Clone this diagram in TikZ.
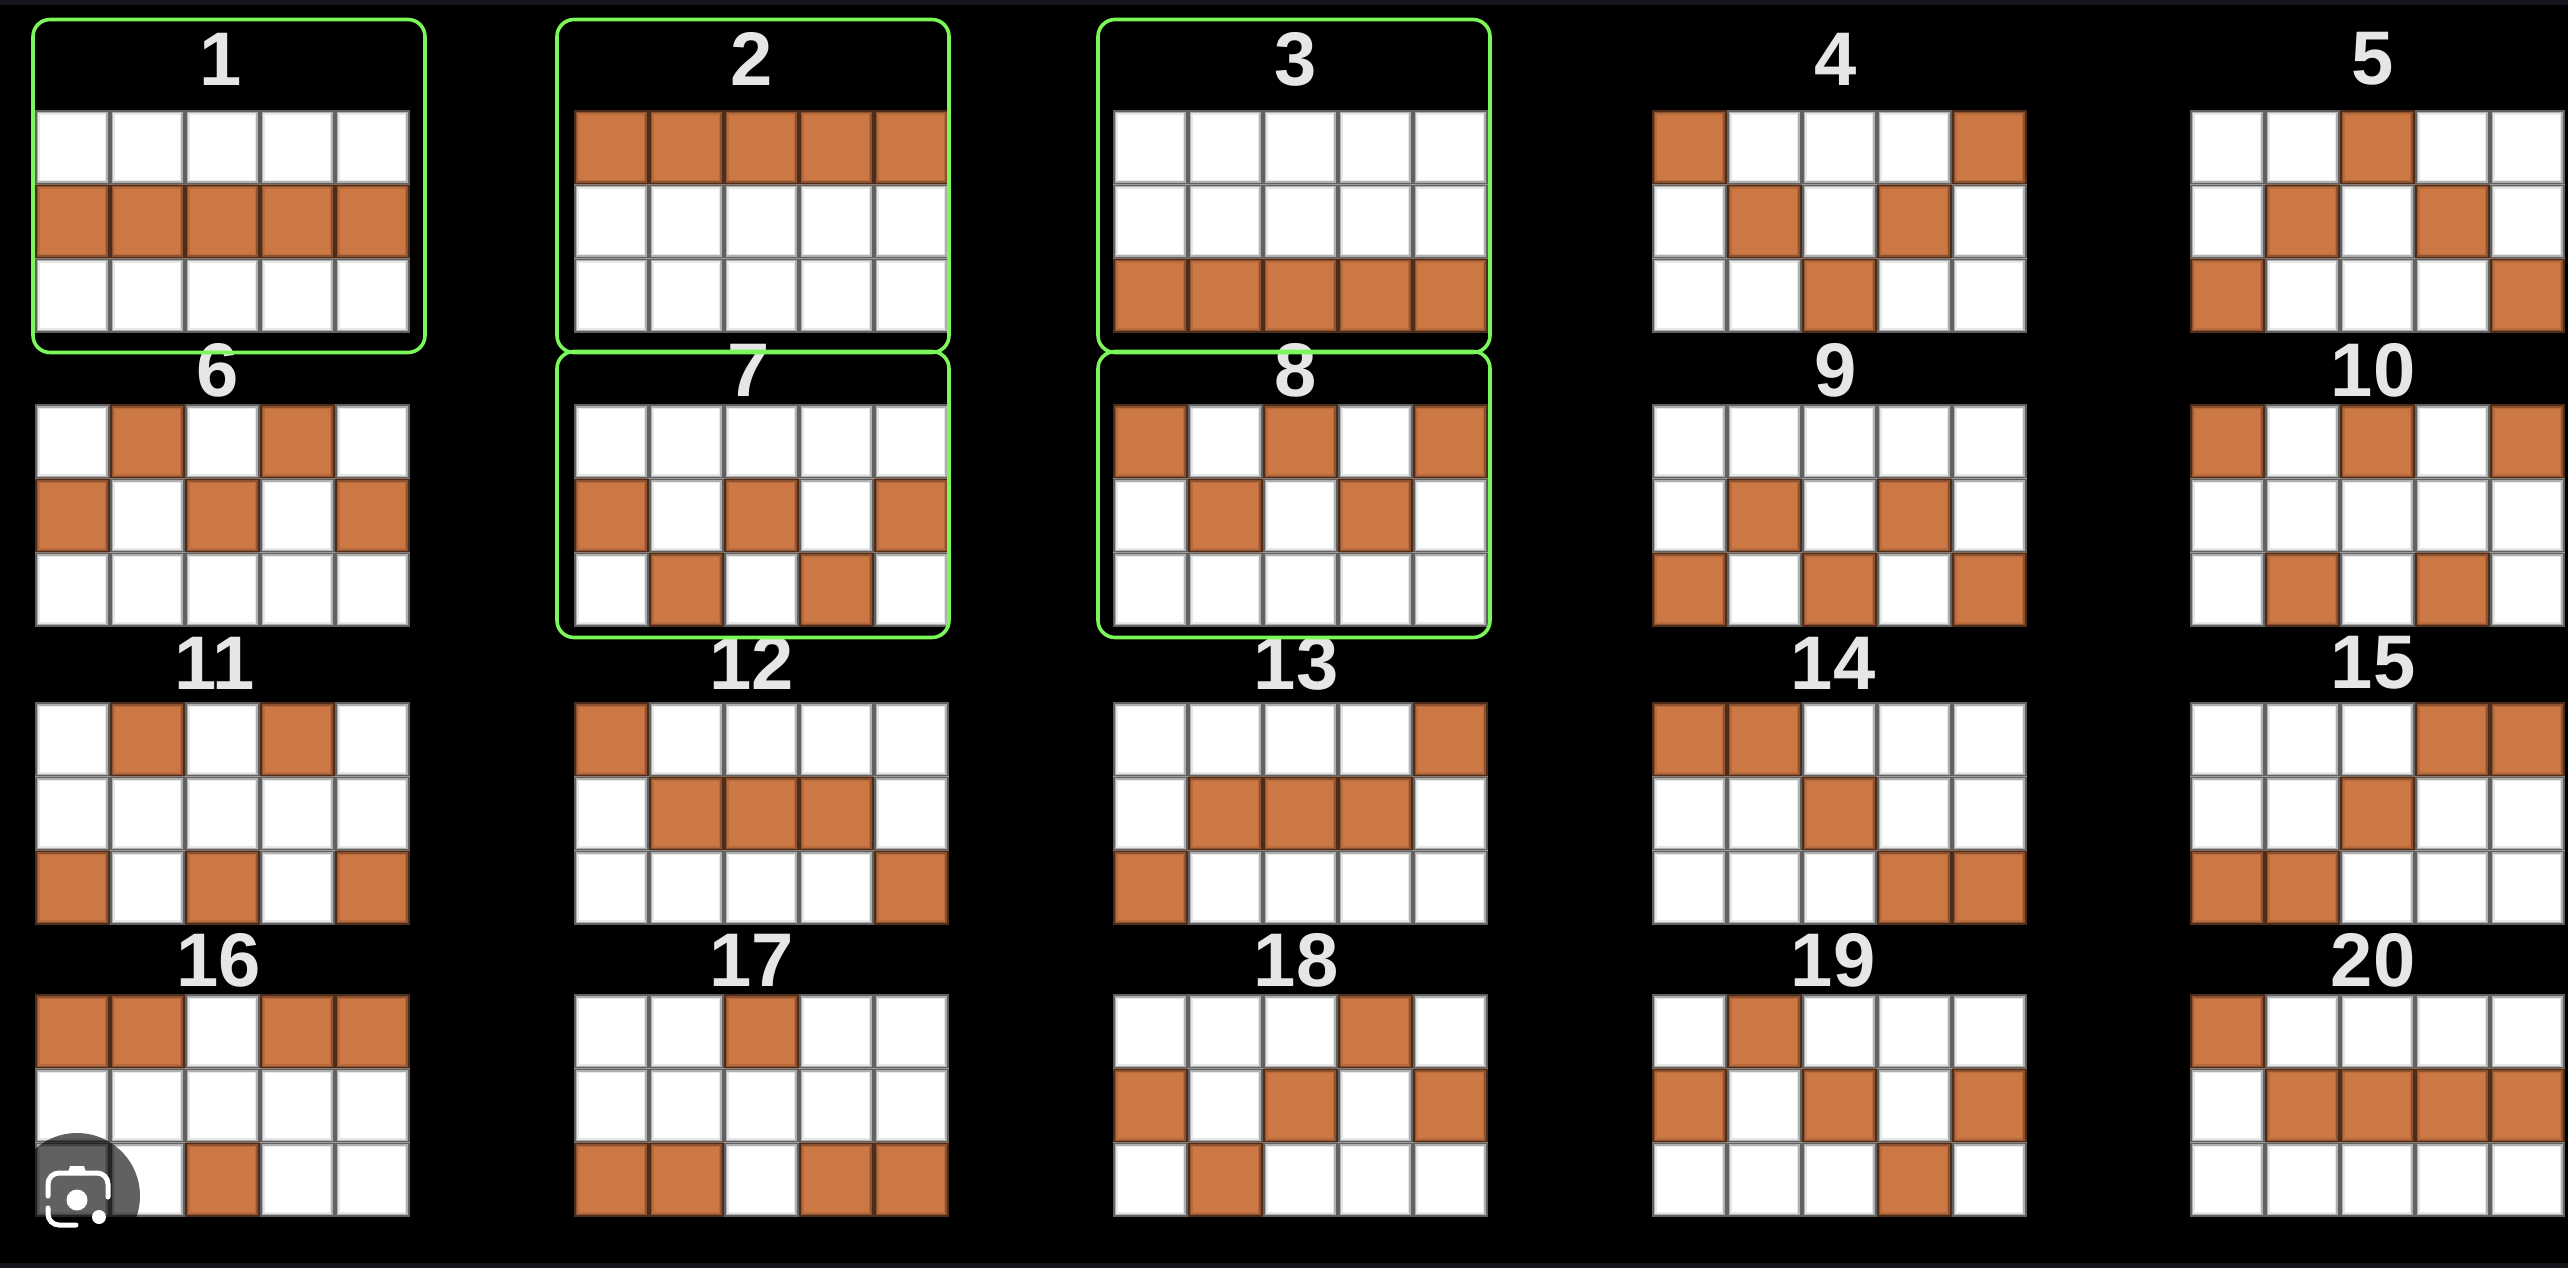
\documentclass[tikz,border=0pt]{standalone}
\usepackage{fontspec}
\setmainfont{Liberation Sans}
\definecolor{cellorange}{HTML}{CC7845}
\definecolor{hlgreen}{HTML}{7CF75A}
\definecolor{stripdark}{HTML}{14141C}
\definecolor{labelgrey}{HTML}{E6E6E6}
\tikzset{
  cellbase/.style={rectangle,inner sep=0pt,outer sep=0pt,minimum width=65pt,minimum height=65pt},
  softcell/.style={cellbase,fill=#1,
    preaction={draw=#1,line width=10pt,opacity=.38},
    preaction={draw=#1,line width=6pt,opacity=.5},
    preaction={draw=#1,line width=3pt,opacity=.7}},
  cellW/.style={softcell=white},
  cellO/.style={softcell=cellorange},
  numlabel/.style={inner sep=0pt,text=labelgrey,font=\fontsize{76}{76}\selectfont\bfseries},
  hlbox/.style={rectangle,draw=hlgreen,line width=3.6pt,rounded corners=17pt,inner sep=0pt,fill=none},
  iconline/.style={draw=white,line width=5pt,line cap=round,rounded corners=11pt}
}
\begin{document}
\begin{tikzpicture}[x=1pt,y=-1pt]
\useasboundingbox (0,0) rectangle (2568,1268);
\fill[black] (0,0) rectangle (2568,1268);
\fill[stripdark] (0,0) rectangle (2568,5);
\fill[stripdark] (0,1263) rectangle (2568,1268);
\foreach \n/\gx/\gy/\lx/\ly/\pat in {
 1/37/111/221/59/{0,0,0,0,0,1,1,1,1,1,0,0,0,0,0},
 2/576/111/752/59/{1,1,1,1,1,0,0,0,0,0,0,0,0,0,0},
 3/1115/111/1296/59/{0,0,0,0,0,0,0,0,0,0,1,1,1,1,1},
 4/1654/111/1836/59/{1,0,0,0,1,0,1,0,1,0,0,0,1,0,0},
 5/2192/111/2373/59/{0,0,1,0,0,0,1,0,1,0,1,0,0,0,1},
 6/37/405/218/370/{0,1,0,1,0,1,0,1,0,1,0,0,0,0,0},
 7/576/405/749/370/{0,0,0,0,0,1,0,1,0,1,0,1,0,1,0},
 8/1115/405/1296/370/{1,0,1,0,1,0,1,0,1,0,0,0,0,0,0},
 9/1654/405/1836/370/{0,0,0,0,0,0,1,0,1,0,1,0,1,0,1},
 10/2192/405/2373/370/{1,0,1,0,1,0,0,0,0,0,0,1,0,1,0},
 11/37/703/215/663/{0,1,0,1,0,0,0,0,0,0,1,0,1,0,1},
 12/576/703/752/663/{1,0,0,0,0,0,1,1,1,0,0,0,0,0,1},
 13/1115/703/1296/663/{0,0,0,0,1,0,1,1,1,0,1,0,0,0,0},
 14/1654/703/1833/663/{1,1,0,0,0,0,0,1,0,0,0,0,0,1,1},
 15/2192/703/2373/663/{0,0,0,1,1,0,0,1,0,0,1,1,0,0,0},
 16/37/995/219/960/{1,1,0,1,1,0,0,0,0,0,0,0,1,0,0},
 17/576/995/752/960/{0,0,1,0,0,0,0,0,0,0,1,1,0,1,1},
 18/1115/995/1296/960/{0,0,0,1,0,1,0,1,0,1,0,1,0,0,0},
 19/1654/995/1833/960/{0,1,0,0,0,1,0,1,0,1,0,0,0,1,0},
 20/2192/995/2373/960/{1,0,0,0,0,0,1,1,1,1,0,0,0,0,0}}{
  \node[numlabel] (label\n) at (\lx,\ly) {\n};
  \foreach \v [count=\k from 0] in \pat {
    \pgfmathtruncatemacro{\col}{mod(\k,5)}
    \pgfmathtruncatemacro{\row}{int(\k/5)}
    \ifnum\v=1 \def\cellst{cellO}\else\def\cellst{cellW}\fi
    \node[\cellst] (g\n-\row-\col) at ({\gx+35+75*\col},{\gy+36.5+74*\row}) {};
  }
}
% highlight frames
\node[hlbox,minimum width=392pt,minimum height=333pt] (box1) at (229,186) {};
\node[hlbox,minimum width=392pt,minimum height=333pt] (box2) at (753,186) {};
\node[hlbox,minimum width=392pt,minimum height=333pt] (box3) at (1294,186) {};
\node[hlbox,minimum width=392pt,minimum height=286pt] (box7) at (753,494.5) {};
\node[hlbox,minimum width=392pt,minimum height=286pt] (box8) at (1294,494.5) {};
% lens badge
\fill[black,opacity=.62] (77,1196) circle (63);
\draw[iconline] (48,1196) -- (48,1173) -- (108,1173) -- (108,1197);
\fill[white] (67,1175) -- (70,1166) -- (84,1166) -- (87,1175) -- cycle;
\draw[iconline] (48,1208) -- (48,1225) -- (76,1225);
\fill[white] (77,1200) circle (10.5);
\fill[white] (99,1217) circle (7);
\end{tikzpicture}
\end{document}
